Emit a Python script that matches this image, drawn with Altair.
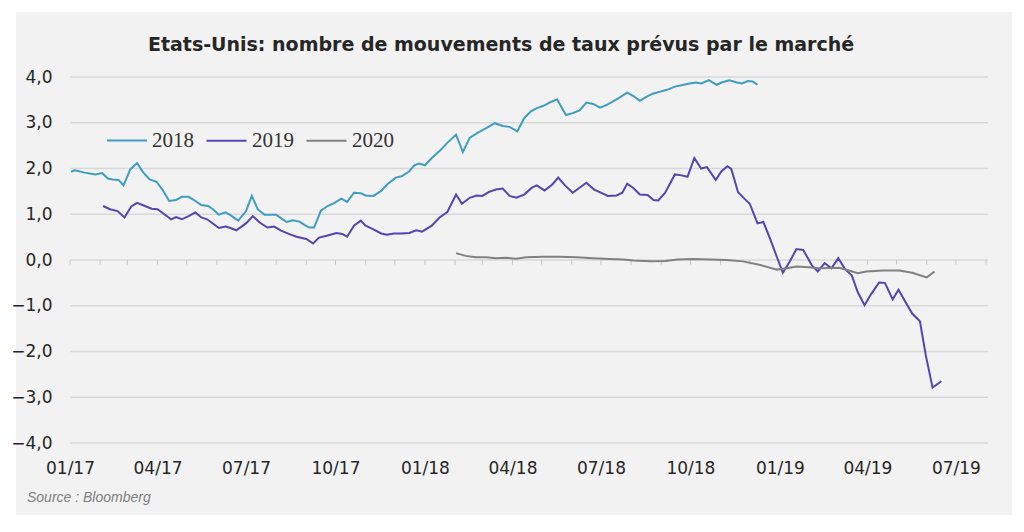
import altair as alt
import pandas as pd

TITLE = "Etats-Unis: nombre de mouvements de taux prévus par le marché"
SOURCE = "Source : Bloomberg"

series_names = ["2018", "2019", "2020"]
series_colors = ["#3f9dc2", "#5346b3", "#808080"]

dates_2018 = ["2017-01-02","2017-01-06","2017-01-16","2017-01-27","2017-02-03","2017-02-09","2017-02-14","2017-02-20","2017-02-25","2017-03-04",
    "2017-03-11","2017-03-17","2017-03-24","2017-03-31","2017-04-06","2017-04-13","2017-04-20","2017-04-26","2017-05-03","2017-05-10",
    "2017-05-16","2017-05-23","2017-05-28","2017-06-03","2017-06-10","2017-06-15","2017-06-23","2017-07-01","2017-07-07","2017-07-13",
    "2017-07-20","2017-07-27","2017-08-01","2017-08-07","2017-08-12","2017-08-18","2017-08-25","2017-08-30","2017-09-04","2017-09-09",
    "2017-09-16","2017-09-23","2017-09-30","2017-10-07","2017-10-13","2017-10-20","2017-10-27","2017-11-01","2017-11-09","2017-11-17",
    "2017-11-23","2017-12-02","2017-12-08","2017-12-16","2017-12-21","2017-12-26","2018-01-01","2018-01-08","2018-01-16","2018-01-24",
    "2018-02-02","2018-02-09","2018-02-16","2018-02-24","2018-03-05","2018-03-14","2018-03-22","2018-03-29","2018-04-06","2018-04-13",
    "2018-04-20","2018-04-26","2018-05-03","2018-05-11","2018-05-17","2018-05-26","2018-06-02","2018-06-09","2018-06-16","2018-06-23",
    "2018-06-30","2018-07-07","2018-07-13","2018-07-20","2018-07-28","2018-08-03","2018-08-10","2018-08-17","2018-08-24","2018-08-31",
    "2018-09-07","2018-09-15","2018-09-24","2018-09-30","2018-10-07","2018-10-12","2018-10-20","2018-10-28","2018-11-02","2018-11-10",
    "2018-11-18","2018-11-23","2018-11-29","2018-12-04","2018-12-09"]
values_2018 = [1.93,1.96,1.91,1.87,1.90,1.78,1.76,1.75,1.63,1.98,
    2.12,1.92,1.76,1.71,1.54,1.29,1.31,1.38,1.38,1.29,
    1.20,1.18,1.11,0.99,1.04,0.98,0.86,1.07,1.40,1.11,
    0.99,0.99,0.99,0.90,0.83,0.87,0.84,0.77,0.71,0.71,
    1.08,1.18,1.25,1.34,1.27,1.47,1.46,1.41,1.40,1.51,
    1.65,1.80,1.83,1.94,2.07,2.11,2.07,2.23,2.38,2.56,
    2.74,2.36,2.67,2.78,2.88,2.99,2.93,2.91,2.81,3.10,
    3.25,3.32,3.37,3.46,3.51,3.17,3.21,3.27,3.44,3.41,
    3.33,3.39,3.46,3.55,3.66,3.59,3.48,3.57,3.64,3.68,
    3.72,3.79,3.83,3.86,3.88,3.86,3.93,3.83,3.88,3.93,
    3.88,3.86,3.91,3.90,3.83]

dates_2019 = ["2017-02-04","2017-02-11","2017-02-19","2017-02-26","2017-03-05","2017-03-11","2017-03-19","2017-03-26","2017-04-01","2017-04-08",
    "2017-04-15","2017-04-20","2017-04-26","2017-05-03","2017-05-10","2017-05-16","2017-05-22","2017-05-29","2017-06-03","2017-06-10",
    "2017-06-15","2017-06-21","2017-07-01","2017-07-08","2017-07-15","2017-07-23","2017-07-30","2017-08-06","2017-08-14","2017-08-22",
    "2017-09-01","2017-09-08","2017-09-14","2017-09-22","2017-10-02","2017-10-08","2017-10-13","2017-10-20","2017-10-27","2017-11-01",
    "2017-11-07","2017-11-17","2017-11-23","2017-11-30","2017-12-08","2017-12-16","2017-12-23","2017-12-29","2018-01-08","2018-01-16",
    "2018-01-24","2018-02-02","2018-02-08","2018-02-16","2018-02-23","2018-03-01","2018-03-08","2018-03-15","2018-03-22","2018-03-29",
    "2018-04-05","2018-04-13","2018-04-21","2018-04-26","2018-05-04","2018-05-12","2018-05-18","2018-05-25","2018-06-02","2018-06-09",
    "2018-06-16","2018-06-24","2018-07-02","2018-07-08","2018-07-17","2018-07-23","2018-07-28","2018-08-03","2018-08-10","2018-08-18",
    "2018-08-24","2018-08-29","2018-09-05","2018-09-15","2018-09-22","2018-09-28","2018-10-05","2018-10-12","2018-10-18","2018-10-27",
    "2018-11-02","2018-11-08","2018-11-12","2018-11-19","2018-11-26","2018-12-01","2018-12-09","2018-12-15","2018-12-22","2018-12-29",
    "2019-01-04","2019-01-11","2019-01-18","2019-01-25","2019-02-03","2019-02-09","2019-02-16","2019-02-23","2019-03-02","2019-03-09",
    "2019-03-16","2019-03-22","2019-03-29","2019-04-05","2019-04-13","2019-04-19","2019-04-27","2019-05-03","2019-05-10","2019-05-17",
    "2019-05-25","2019-05-31","2019-06-07","2019-06-16"]
values_2019 = [1.18,1.11,1.07,0.93,1.17,1.25,1.18,1.12,1.11,1.00,
    0.89,0.94,0.89,0.96,1.04,0.93,0.89,0.78,0.70,0.73,
    0.70,0.65,0.80,0.96,0.82,0.71,0.73,0.64,0.57,0.51,
    0.46,0.36,0.49,0.53,0.59,0.57,0.51,0.75,0.86,0.75,
    0.69,0.58,0.55,0.58,0.58,0.59,0.65,0.62,0.75,0.93,
    1.05,1.43,1.23,1.36,1.41,1.40,1.49,1.54,1.56,1.40,
    1.36,1.43,1.58,1.63,1.52,1.65,1.80,1.63,1.47,1.58,
    1.69,1.54,1.46,1.40,1.41,1.47,1.67,1.58,1.43,1.42,
    1.31,1.30,1.47,1.87,1.85,1.82,2.23,2.00,2.03,1.75,
    1.94,2.05,1.99,1.48,1.33,1.23,0.80,0.83,0.46,0.06,
    -0.28,-0.04,0.24,0.22,-0.12,-0.25,-0.07,-0.18,0.04,-0.20,
    -0.34,-0.70,-0.99,-0.74,-0.49,-0.50,-0.86,-0.65,-0.91,-1.17,
    -1.34,-2.08,-2.79,-2.65]

dates_2020 = ["2018-02-02","2018-02-12","2018-02-22","2018-03-05","2018-03-15","2018-03-25","2018-04-05","2018-04-15","2018-05-02","2018-05-19",
    "2018-06-06","2018-06-23","2018-07-10","2018-07-24","2018-08-03","2018-08-21","2018-09-05","2018-09-18","2018-10-03","2018-10-21",
    "2018-11-07","2018-11-24","2018-12-12","2018-12-29","2019-01-08","2019-01-18","2019-01-31","2019-02-10","2019-03-03","2019-03-13",
    "2019-03-22","2019-03-31","2019-04-17","2019-05-04","2019-05-17","2019-06-01","2019-06-09"]
values_2020 = [0.15,0.09,0.06,0.06,0.04,0.05,0.03,0.06,0.07,0.07,
    0.06,0.04,0.02,0.01,-0.01,-0.03,-0.02,0.01,0.02,0.01,
    0.00,-0.03,-0.11,-0.21,-0.18,-0.14,-0.16,-0.18,-0.17,-0.23,
    -0.29,-0.25,-0.23,-0.23,-0.28,-0.38,-0.25]

y_ticks = [-4, -3, -2, -1, 0, 1, 2, 3, 4]
x_label_dates = [(2017, 1), (2017, 4), (2017, 7), (2017, 10), (2018, 1), (2018, 4),
                 (2018, 7), (2018, 10), (2019, 1), (2019, 4), (2019, 7)]
zero_tick_months = ["2017-01-01","2017-02-01","2017-03-01","2017-04-01","2017-05-01","2017-06-01","2017-07-01","2017-08-01",
    "2017-09-01","2017-10-01","2017-11-01","2017-12-01","2018-01-01","2018-02-01","2018-03-01","2018-04-01","2018-05-01",
    "2018-06-01","2018-07-01","2018-08-01","2018-09-01","2018-10-01","2018-11-01","2018-12-01","2019-01-01","2019-02-01",
    "2019-03-01","2019-04-01","2019-05-01","2019-06-01","2019-07-01","2019-08-01"]

assert len(dates_2018) == len(values_2018)
assert len(dates_2019) == len(values_2019)
assert len(dates_2020) == len(values_2020)

frames = []
for name, d, v in [("2018", dates_2018, values_2018), ("2019", dates_2019, values_2019), ("2020", dates_2020, values_2020)]:
    frames.append(pd.DataFrame({"date": d, "value": v, "serie": name}))
df = pd.concat(frames, ignore_index=True)

W, H = 918, 366

x_scale = alt.Scale(domain=[alt.DateTime(year=2017, month=1, date=1, utc=True),
                            alt.DateTime(year=2019, month=8, date=3, utc=True)])
y_scale = alt.Scale(domain=[-4, 4], nice=False)

bg = alt.Chart(pd.DataFrame({"a": [0]})).mark_rect(color="#f2f2f2").encode(
    x=alt.value(-54), x2=alt.value(942), y=alt.value(-65), y2=alt.value(438)
)

grid = alt.Chart(pd.DataFrame({"v": y_ticks})).mark_rule(color="#d9d9d9", strokeWidth=1.3).encode(
    y=alt.Y("v:Q", scale=y_scale),
    x=alt.value(0), x2=alt.value(W),
)

ticks0 = alt.Chart(pd.DataFrame({"date": zero_tick_months})).mark_rule(color="#c4c4c4", strokeWidth=1).encode(
    x=alt.X("date:T", scale=x_scale),
    y=alt.datum(0),
    y2=alt.datum(-0.1),
)

lines = alt.Chart(df).mark_line(strokeWidth=2, interpolate="linear").encode(
    x=alt.X("date:T", scale=x_scale, title=None,
            axis=alt.Axis(values=[alt.DateTime(year=y, month=m, date=1, utc=True) for y, m in x_label_dates],
                          labelExpr="utcFormat(datum.value, '%m/%y')",
                          domain=False, ticks=False, grid=False, zindex=1,
                          labelFlush=False, labelOverlap=False, labelAlign="center",
                          labelFont="DejaVu Sans", labelFontSize=17, labelColor="#262626",
                          labelPadding=17)),
    y=alt.Y("value:Q", scale=y_scale, title=None,
            axis=alt.Axis(values=y_ticks,
                          labelExpr="replace(format(datum.value, '.1f'), '.', ',')",
                          domain=False, ticks=False, grid=False, zindex=1,
                          labelFont="DejaVu Sans", labelFontSize=17, labelColor="#262626",
                          labelPadding=18)),
    color=alt.Color("serie:N", scale=alt.Scale(domain=series_names, range=series_colors),
                    legend=alt.Legend(orient="none", legendX=36, legendY=42, direction="horizontal",
                                      title=None, symbolType="stroke", symbolSize=1600,
                                      symbolStrokeWidth=2, labelFont="Liberation Serif",
                                      labelFontSize=21, labelColor="#333333",
                                      columnPadding=8, labelOffset=4)),
    strokeWidth=alt.StrokeWidth("serie:N", scale=alt.Scale(domain=series_names, range=[2, 2.2, 1.5]), legend=None),
)

title = alt.Chart(pd.DataFrame({"t": [TITLE]})).mark_text(
    font="DejaVu Sans", fontWeight="bold", fontSize=19, color="#262626", align="center", baseline="middle"
).encode(text="t:N", x=alt.value(431), y=alt.value(-32))

source = alt.Chart(pd.DataFrame({"t": [SOURCE]})).mark_text(
    font="Liberation Sans", fontStyle="italic", fontSize=14, color="#808080", align="left", baseline="middle"
).encode(text="t:N", x=alt.value(-43), y=alt.value(421))

chart = alt.layer(bg, grid, ticks0, lines, title, source).properties(
    width=W, height=H, background="white",
    autosize=alt.AutoSizeParams(type="none"),
    padding={"left": 70, "top": 77, "right": 36, "bottom": 89},
).configure_view(strokeWidth=0)

chart.save("out.html", embed_options={"renderer": "svg", "actions": False})
